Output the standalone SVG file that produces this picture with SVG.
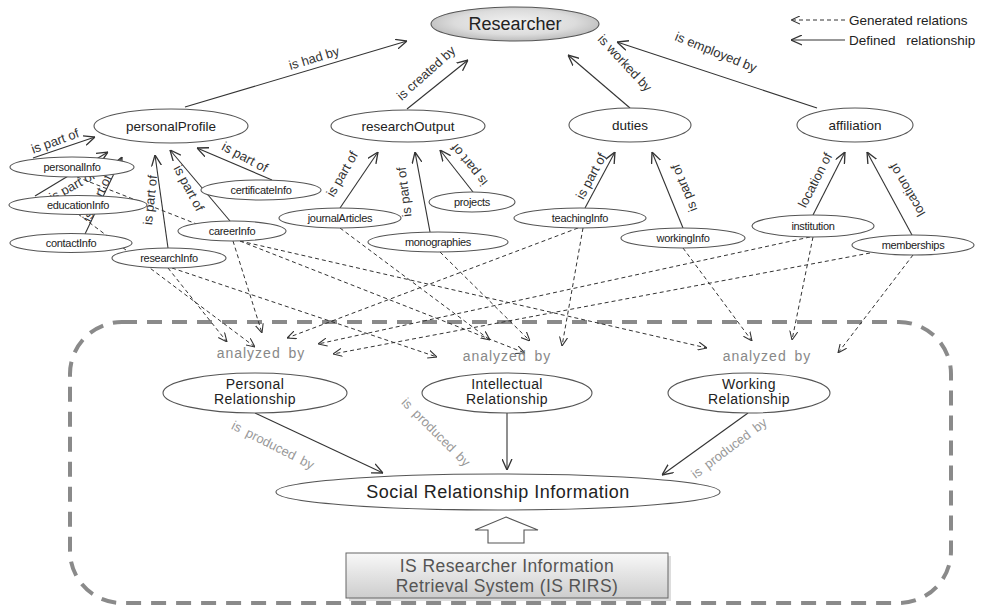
<svg xmlns="http://www.w3.org/2000/svg" width="983" height="613" viewBox="0 0 983 613">
<defs>
<style>
.n ellipse{fill:#fff;stroke:#555;stroke-width:1.1}
.t{font-family:"Liberation Sans",Arial,sans-serif;fill:#222;text-anchor:middle}
.s{font-size:11px;letter-spacing:-0.3px}
.m{font-size:13.5px}
.b{font-size:14px;letter-spacing:0.4px}
.e{stroke:#333;stroke-width:1.1;fill:none;marker-end:url(#ah)}
.d{stroke:#333;stroke-width:1;fill:none;stroke-dasharray:4 3;marker-end:url(#ahd)}
.lb{font-family:"Liberation Sans",Arial,sans-serif;font-size:13px;fill:#333;text-anchor:middle}
.g{font-family:"Liberation Sans",Arial,sans-serif;font-size:13px;fill:#999;text-anchor:middle;word-spacing:3px}
.an{font-family:"Liberation Sans",Arial,sans-serif;font-size:14px;fill:#888;text-anchor:middle;letter-spacing:1px;word-spacing:3px}
.lg{font-family:"Liberation Sans",Arial,sans-serif;font-size:13.5px;fill:#222}
</style>
<marker id="ah" viewBox="0 0 10 10" refX="10" refY="5" markerWidth="11" markerHeight="11" markerUnits="userSpaceOnUse" orient="auto"><path d="M0,0.5 L10,5 L0,9.5" fill="none" stroke="#333" stroke-width="1.2"/></marker>
<marker id="ahd" viewBox="0 0 10 10" refX="10" refY="5" markerWidth="9" markerHeight="9" markerUnits="userSpaceOnUse" orient="auto"><path d="M0,0.5 L10,5 L0,9.5" fill="none" stroke="#333" stroke-width="1.2"/></marker>
<radialGradient id="rg" cx="50%" cy="45%" r="60%"><stop offset="0" stop-color="#f2f2f2"/><stop offset="0.6" stop-color="#dcdcdc"/><stop offset="1" stop-color="#b4b4b4"/></radialGradient>
<linearGradient id="bg" x1="0" y1="0" x2="0" y2="1"><stop offset="0" stop-color="#f8f8f8"/><stop offset="1" stop-color="#cdcdcd"/></linearGradient>
</defs>
<rect width="983" height="613" fill="#fff"/>

<!-- dashed boundary -->
<rect x="70" y="322" width="881" height="281" rx="52" ry="52" fill="none" stroke="#8a8a8a" stroke-width="4" stroke-dasharray="15 10"/>

<!-- legend -->
<g id="legend">
<line x1="845" y1="20" x2="791" y2="20" class="d"/>
<text class="lg" x="849" y="25">Generated relations</text>
<line x1="845" y1="40" x2="791" y2="40" class="e"/>
<text class="lg" x="849" y="45" style="word-spacing:7px">Defined relationship</text>
</g>

<g id="connectors">
<!-- generated (dashed) -->
<line class="d" x1="77" y1="177" x2="525" y2="353"/>
<line class="d" x1="78" y1="214" x2="255" y2="347"/>
<line class="d" x1="168" y1="268" x2="227" y2="342"/>
<line class="d" x1="172" y1="268" x2="437" y2="357"/>
<line class="d" x1="233" y1="241" x2="262" y2="333"/>
<line class="d" x1="240" y1="241" x2="707" y2="348"/>
<line class="d" x1="340" y1="228" x2="490" y2="340"/>
<line class="d" x1="440" y1="252" x2="530" y2="341"/>
<line class="d" x1="583" y1="228" x2="562" y2="346"/>
<line class="d" x1="578" y1="228" x2="287" y2="338"/>
<line class="d" x1="683" y1="248" x2="752" y2="341"/>
<line class="d" x1="813" y1="237" x2="792" y2="340"/>
<line class="d" x1="810" y1="237" x2="318" y2="344"/>
<line class="d" x1="913" y1="255" x2="838" y2="353"/>
<line class="d" x1="870" y1="253" x2="333" y2="354"/>
<!-- defined (solid) -->
<line class="e" x1="185" y1="107" x2="407" y2="41"/>
<line class="e" x1="407" y1="109" x2="468" y2="60"/>
<line class="e" x1="630" y1="108" x2="568" y2="55"/>
<line class="e" x1="817" y1="108" x2="617" y2="42"/>
<line class="e" x1="33" y1="158" x2="95" y2="137"/>
<line class="e" x1="35" y1="196" x2="108" y2="152"/>
<line class="e" x1="85" y1="234" x2="122" y2="157"/>
<line class="e" x1="168" y1="248" x2="155" y2="155"/>
<line class="e" x1="230" y1="221" x2="170" y2="150"/>
<line class="e" x1="272" y1="180" x2="197" y2="148"/>
<line class="e" x1="340" y1="208" x2="378" y2="152"/>
<line class="e" x1="430" y1="232" x2="415" y2="152"/>
<line class="e" x1="473" y1="192" x2="440" y2="150"/>
<line class="e" x1="585" y1="208" x2="615" y2="152"/>
<line class="e" x1="683" y1="228" x2="652" y2="152"/>
<line class="e" x1="813" y1="215" x2="845" y2="152"/>
<line class="e" x1="912" y1="235" x2="867" y2="152"/>
<line class="e" x1="255" y1="413" x2="383" y2="473"/>
<line class="e" x1="507" y1="413" x2="507" y2="470"/>
<line class="e" x1="748" y1="413" x2="662" y2="475"/>
<!-- labels -->
<text class="lb" transform="translate(314,58) rotate(-17)" dy="0.35em">is had by</text>
<text class="lb" transform="translate(426,73) rotate(-42)" dy="0.35em">is created by</text>
<text class="lb" transform="translate(625,63) rotate(47)" dy="0.35em">is worked by</text>
<text class="lb" transform="translate(716,52) rotate(22)" dy="0.35em">is employed by</text>
<text class="lb" transform="translate(55,141) rotate(-20)" dy="0.35em">is part of</text>
<text class="lb" transform="translate(72,186) rotate(-29)" dy="0.35em">is part of</text>
<text class="lb" transform="translate(97,198) rotate(-64)" dy="0.35em">is part of</text>
<text class="lb" transform="translate(150,200) rotate(-84)" dy="0.35em">is part of</text>
<text class="lb" transform="translate(189,188) rotate(62)" dy="0.35em">is part of</text>
<text class="lb" transform="translate(245,157) rotate(28)" dy="0.35em">is part of</text>
<text class="lb" transform="translate(342,174) rotate(-60)" dy="0.35em">is part of</text>
<text class="lb" transform="translate(404,192) rotate(-97)" dy="0.35em">is part of</text>
<text class="lb" transform="translate(469,165) rotate(-129)" dy="0.35em">is part of</text>
<text class="lb" transform="translate(591,176) rotate(-62)" dy="0.35em">is part of</text>
<text class="lb" transform="translate(684,188) rotate(-112)" dy="0.35em">is part of</text>
<text class="lb" transform="translate(815,180) rotate(-63)" dy="0.35em">location of</text>
<text class="lb" transform="translate(907,190) rotate(-120)" dy="0.35em">location of</text>
<text class="g" transform="translate(273,445) rotate(27)" dy="0.35em">is produced by</text>
<text class="g" transform="translate(436,432) rotate(45)" dy="0.35em">is produced by</text>
<text class="g" transform="translate(729,448) rotate(-37)" dy="0.35em">is produced by</text>
<text class="an" x="261" y="358">analyzed by</text>
<text class="an" x="507" y="361">analyzed by</text>
<text class="an" x="767" y="361">analyzed by</text>
</g>

<g id="researcher"><ellipse cx="515" cy="24" rx="84" ry="17" fill="url(#rg)" stroke="#555" stroke-width="1.1"/><text class="t" x="515" y="30" style="font-size:18px">Researcher</text></g>
<g id="personalProfile" class="n"><ellipse cx="171" cy="126" rx="77" ry="17"/><text class="t m" x="171" y="131">personalProfile</text></g>
<g id="researchOutput" class="n"><ellipse cx="408" cy="126" rx="77" ry="16"/><text class="t m" x="408" y="131">researchOutput</text></g>
<g id="duties" class="n"><ellipse cx="630" cy="125" rx="61" ry="17"/><text class="t m" x="630" y="130">duties</text></g>
<g id="affiliation" class="n"><ellipse cx="855" cy="125" rx="58" ry="17"/><text class="t m" x="855" y="130">affiliation</text></g>
<g id="personalInfo" class="n"><ellipse cx="72" cy="167" rx="62" ry="10"/><text class="t s" x="72" y="171">personalInfo</text></g>
<g id="educationInfo" class="n"><ellipse cx="78" cy="205" rx="69" ry="9.5"/><text class="t s" x="78" y="209">educationInfo</text></g>
<g id="contactInfo" class="n"><ellipse cx="71" cy="243" rx="61" ry="9.5"/><text class="t s" x="71" y="247">contactInfo</text></g>
<g id="researchInfo" class="n"><ellipse cx="169" cy="258" rx="57" ry="10"/><text class="t s" x="169" y="262">researchInfo</text></g>
<g id="careerInfo" class="n"><ellipse cx="232" cy="231" rx="54" ry="10"/><text class="t s" x="232" y="235">careerInfo</text></g>
<g id="certificateInfo" class="n"><ellipse cx="261" cy="190" rx="60" ry="10"/><text class="t s" x="261" y="194">certificateInfo</text></g>
<g id="journalArticles" class="n"><ellipse cx="340" cy="218" rx="61" ry="10"/><text class="t s" x="340" y="222">journalArticles</text></g>
<g id="projects" class="n"><ellipse cx="472" cy="202" rx="43" ry="10"/><text class="t s" x="472" y="206">projects</text></g>
<g id="monographies" class="n"><ellipse cx="438" cy="242" rx="70" ry="10"/><text class="t s" x="438" y="246">monographies</text></g>
<g id="teachingInfo" class="n"><ellipse cx="580" cy="218" rx="66" ry="10"/><text class="t s" x="580" y="222">teachingInfo</text></g>
<g id="workingInfo" class="n"><ellipse cx="683" cy="238" rx="62" ry="10"/><text class="t s" x="683" y="242">workingInfo</text></g>
<g id="institution" class="n"><ellipse cx="813" cy="226" rx="61" ry="11"/><text class="t s" x="813" y="230">institution</text></g>
<g id="memberships" class="n"><ellipse cx="913" cy="245" rx="61" ry="10"/><text class="t s" x="913" y="249">memberships</text></g>

<g id="personalRel" class="n"><ellipse cx="255" cy="393" rx="92" ry="20"/><text class="t b" x="255" y="389">Personal</text><text class="t b" x="255" y="404">Relationship</text></g>
<g id="intellectualRel" class="n"><ellipse cx="507" cy="393" rx="85" ry="20"/><text class="t b" x="507" y="389">Intellectual</text><text class="t b" x="507" y="404">Relationship</text></g>
<g id="workingRel" class="n"><ellipse cx="749" cy="393" rx="81" ry="20"/><text class="t b" x="749" y="389">Working</text><text class="t b" x="749" y="404">Relationship</text></g>
<g id="social" class="n"><ellipse cx="498" cy="492" rx="222" ry="18"/><text class="t" x="498" y="498" style="font-size:18px;letter-spacing:0.5px">Social Relationship Information</text></g>

<g id="uparrow"><polygon points="506,517 538,530 524,530 524,543 488,543 488,530 475,530" fill="#fff" stroke="#555" stroke-width="1.1"/></g>
<g id="irirs">
<rect x="349" y="556" width="322" height="45" fill="#bbb" opacity="0.5"/>
<rect x="346" y="553" width="322" height="45" fill="url(#bg)" stroke="#666" stroke-width="1"/>
<text class="t" x="507" y="572" style="font-size:17.5px;fill:#555;letter-spacing:0.4px">IS Researcher Information</text>
<text class="t" x="507" y="592" style="font-size:17.5px;fill:#555;letter-spacing:0.4px">Retrieval System (IS RIRS)</text>
</g>
</svg>
